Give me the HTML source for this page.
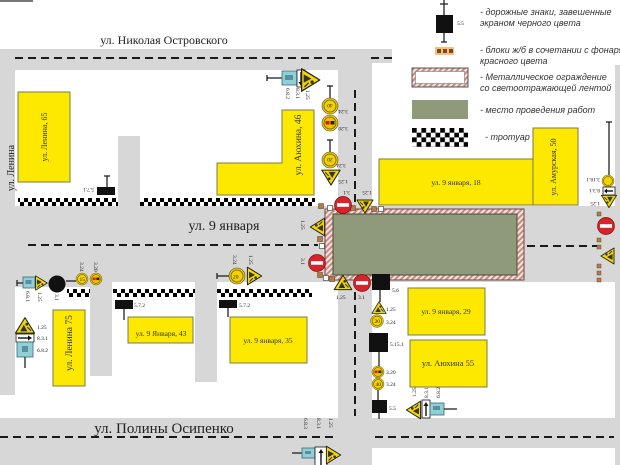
<!DOCTYPE html>
<html><head><meta charset="utf-8">
<style>
html,body{margin:0;padding:0;background:#fff;}
svg{display:block;}
.st{font-family:"Liberation Serif",serif;fill:#222;}
.it{font-family:"Liberation Sans",sans-serif;font-style:italic;font-size:9px;fill:#333;}
.lb{font-family:"Liberation Serif",serif;font-size:5.5px;fill:#222;}
.bl{font-family:"Liberation Serif",serif;fill:#333;}
</style></head><body>
<svg width="620" height="465" viewBox="0 0 620 465" xmlns="http://www.w3.org/2000/svg">
<defs>
<pattern id="c1" x="0" y="198" width="8" height="8" patternUnits="userSpaceOnUse"><rect width="8" height="8" fill="#fff"/><rect width="4" height="4" fill="#000"/><rect x="4" y="4" width="4" height="4" fill="#000"/></pattern>
<pattern id="c2" x="1" y="289" width="8" height="8" patternUnits="userSpaceOnUse"><rect width="8" height="8" fill="#fff"/><rect width="4" height="4" fill="#000"/><rect x="4" y="4" width="4" height="4" fill="#000"/></pattern>
<pattern id="c3" x="412" y="128" width="9.4" height="9.4" patternUnits="userSpaceOnUse"><rect width="9.4" height="9.4" fill="#fff"/><rect width="4.7" height="4.7" fill="#000"/><rect x="4.7" y="4.7" width="4.7" height="4.7" fill="#000"/></pattern>
<pattern id="h" width="4" height="4" patternUnits="userSpaceOnUse" patternTransform="rotate(45)"><rect width="4" height="4" fill="#f4e4e0"/><rect width="2" height="4" fill="#c98a84"/></pattern>
<g id="T"><polygon points="0,-7 8,6 -8,6" fill="#f4d600" stroke="#222" stroke-width=".9" stroke-linejoin="round"/><path d="M-4 4.5L-1 -1L2 4.5Z" fill="#333"/><circle cx="1.5" cy="-1.5" r="1.2" fill="#333"/><path d="M2 1L5 4" stroke="#333" stroke-width="1"/></g>
<g id="N"><circle r="8.5" fill="#d8232a" stroke="#7a1010" stroke-width=".7"/><rect x="-6" y="-1.8" width="12" height="3.6" fill="#fff"/></g>
<g id="S"><circle r="8" fill="#f2d200" stroke="#444" stroke-width=".6"/><circle r="6" fill="none" stroke="#8a6d00" stroke-width="1"/></g>
<g id="R"><circle r="8" fill="#f2d200" stroke="#444" stroke-width=".6"/><circle r="6" fill="#f6c000" stroke="#8a6d00" stroke-width="1"/><rect x="-4.5" y="-2" width="4" height="3.5" fill="#d02020"/><rect x="0.5" y="-2" width="4" height="3.5" fill="#222"/></g>
<g id="B"><rect x="-2.5" y="-2.5" width="5" height="5" fill="#b27b4a" stroke="#5b3b1b" stroke-width=".5"/></g>
<g id="W"><rect x="-2.5" y="-2.5" width="5" height="5" fill="#fff" stroke="#333" stroke-width=".6"/></g>
</defs>

<rect width="620" height="465" fill="#fff"/>
<rect x="0" y="0" width="33" height="2" fill="#777"/>

<!-- roads -->
<g fill="#d7d7d7">
 <rect x="0" y="49" width="372" height="21"/>
 <rect x="372" y="49" width="20" height="14"/>
 <rect x="0" y="49" width="15" height="346"/>
 <rect x="0" y="206" width="620" height="76"/>
 <rect x="0" y="282" width="90" height="5"/>
 <rect x="118" y="136" width="22" height="70"/>
 <rect x="338" y="49" width="34" height="416"/>
 <rect x="90" y="282" width="22" height="94"/>
 <rect x="195" y="282" width="22" height="100"/>
 <rect x="0" y="418" width="620" height="30"/>
 <rect x="0" y="448" width="372" height="17"/>
 <rect x="615" y="65" width="5" height="400"/>
</g>

<!-- dashed center lines -->
<g stroke="#1a1a1a" stroke-width="2" stroke-dasharray="8 5" fill="none">
 <path d="M15 58H336M371 58H392"/>
 <path d="M355 90V202M355 292V416"/>
 <path d="M28 245H318M527 246H600"/>
 <path d="M0 437H338M375 437H614"/>
</g>

<!-- sidewalks -->
<rect x="18" y="198" width="100" height="8" fill="url(#c1)"/>
<rect x="140" y="198" width="175" height="8" fill="url(#c1)"/>
<rect x="67" y="289" width="23" height="8" fill="url(#c2)"/>
<rect x="113" y="289" width="82" height="8" fill="url(#c2)"/>
<rect x="217" y="289" width="95" height="8" fill="url(#c2)"/>

<!-- buildings -->
<g fill="#fde800" stroke="#7a7a50" stroke-width="1">
 <rect x="18" y="92" width="52" height="90"/>
 <polygon points="282,110 314,110 314,195 217,195 217,163 282,163"/>
 <rect x="379" y="159" width="154" height="46"/>
 <rect x="533" y="128" width="45" height="77"/>
 <rect x="408" y="288" width="77" height="47"/>
 <rect x="410" y="340" width="77" height="47"/>
 <rect x="53" y="310" width="32" height="76"/>
 <rect x="128" y="317" width="65" height="26"/>
 <rect x="230" y="317" width="77" height="46"/>
</g>

<!-- work zone -->
<rect x="325" y="209" width="199" height="71" fill="url(#h)" stroke="#6b4a3a" stroke-width="1"/>
<rect x="333" y="214" width="184" height="61" fill="#8e9a7a" stroke="#4a4a3a" stroke-width="1"/>

<!-- street labels -->
<text class="st" x="164" y="44" font-size="12" text-anchor="middle">ул. Николая Островского</text>
<text class="st" x="224" y="230" font-size="14" text-anchor="middle">ул. 9 января</text>
<text class="st" x="164" y="433" font-size="15" text-anchor="middle">ул. Полины Осипенко</text>
<text class="st" font-size="10" text-anchor="middle" transform="translate(14,168) rotate(-90)">ул. Ленина</text>

<!-- building labels -->
<text class="bl" font-size="8" text-anchor="middle" transform="translate(47,137) rotate(-90)">ул. Ленина, 65</text>
<text class="bl" font-size="9.5" text-anchor="middle" transform="translate(301,145) rotate(-90)">ул. Аюхина, 46</text>
<text class="bl" font-size="7.5" x="456" y="185" text-anchor="middle">ул. 9 января, 18</text>
<text class="bl" font-size="8" text-anchor="middle" transform="translate(556,167) rotate(-90)">ул. Амурская, 50</text>
<text class="bl" font-size="7.5" x="446" y="314" text-anchor="middle">ул. 9 января, 29</text>
<text class="bl" font-size="8.5" x="448" y="366" text-anchor="middle">ул. Аюхина 55</text>
<text class="bl" font-size="9.5" text-anchor="middle" transform="translate(72,343) rotate(-90)">ул. Ленина 75</text>
<text class="bl" font-size="7.5" x="161" y="336" text-anchor="middle">ул. 9 Января, 43</text>
<text class="bl" font-size="7.5" x="268" y="343" text-anchor="middle">ул. 9 января, 35</text>

<!-- legend -->
<g stroke="#222" stroke-width="1.3">
 <line x1="444" y1="0" x2="444" y2="15"/><line x1="440" y1="4" x2="448" y2="4"/>
 <line x1="444" y1="33" x2="444" y2="42"/><line x1="441" y1="42" x2="447" y2="42"/>
</g>
<rect x="436" y="15" width="17" height="18" fill="#111"/>
<text class="lb" x="457" y="25">5.5</text>
<rect x="435" y="47" width="19" height="8" fill="#f0b060" opacity=".8"/>
<rect x="437" y="49" width="4" height="4" fill="#7a4a20"/><rect x="443" y="49" width="4" height="4" fill="#7a4a20"/><rect x="449" y="49" width="4" height="4" fill="#7a4a20"/>
<rect x="412" y="68" width="56" height="19" fill="url(#h)" stroke="#555" stroke-width="1"/>
<rect x="415.5" y="71.5" width="49" height="12" fill="#fff" stroke="#777" stroke-width=".6"/>
<rect x="412" y="100" width="56" height="19" fill="#8e9a7a"/>
<rect x="412" y="128" width="56" height="19" fill="url(#c3)"/>
<text class="it" x="480" y="15">- дорожные знаки, завешенные</text>
<text class="it" x="480" y="26">экраном черного цвета</text>
<text class="it" x="480" y="53">- блоки ж/б в сочетании с фонарями</text>
<text class="it" x="480" y="64">красного цвета</text>
<text class="it" x="480" y="80">- Металлическое ограждение</text>
<text class="it" x="480" y="91">со светоотражающей лентой</text>
<text class="it" x="480" y="113">- место проведения работ</text>
<text class="it" x="485" y="140">- тротуар</text>

<!-- top cluster (near Аюхина 46) -->
<g stroke="#222" stroke-width="1.3"><line x1="267" y1="78" x2="282" y2="78"/><line x1="267" y1="75" x2="267" y2="81"/></g>
<rect x="282" y="71" width="15" height="14" fill="#8fd0d6" stroke="#3b6677" stroke-width=".8"/>
<rect x="285" y="75" width="8" height="5" fill="#5a8fa0"/>
<rect x="297" y="70" width="8" height="17" fill="#fff" stroke="#111" stroke-width=".8"/>
<path d="M301 72V83" stroke="#111" stroke-width="1.4"/><path d="M298.5 82H303.5L301 86Z" fill="#111"/>
<use href="#T" transform="translate(310,80) rotate(90) scale(1.4)"/>
<text class="lb" transform="translate(286,88) rotate(90)">6.8.2</text>
<text class="lb" transform="translate(296,88) rotate(90)">8.3.1</text>
<text class="lb" transform="translate(306,90) rotate(90)">1.25</text>

<!-- signs along vertical road (top) -->
<g stroke="#222" stroke-width="1.3"><line x1="330" y1="86" x2="330" y2="98"/><line x1="327" y1="86" x2="333" y2="86"/><line x1="330" y1="140" x2="330" y2="152"/><line x1="327" y1="140" x2="333" y2="140"/></g>
<use href="#S" transform="translate(330,106)"/>
<text class="lb" font-size="6" text-anchor="middle" transform="translate(330,104) rotate(180)">40</text>
<use href="#R" transform="translate(330,123)"/>
<use href="#S" transform="translate(330,160)"/>
<text class="lb" font-size="6.5" text-anchor="middle" transform="translate(330,158) rotate(180)">20</text>
<use href="#T" transform="translate(331,177) rotate(180) scale(1.15)"/>
<text class="lb" transform="translate(348,110) rotate(180)">3.24</text>
<text class="lb" transform="translate(348,127) rotate(180)">3.20</text>
<text class="lb" transform="translate(346,164) rotate(180)">3.24</text>
<text class="lb" transform="translate(348,180) rotate(180)">1.25</text>

<!-- work zone cluster -->
<use href="#B" transform="translate(321,206)"/><use href="#W" transform="translate(330,208)"/>
<use href="#B" transform="translate(353,208)"/><use href="#B" transform="translate(374,209)"/><use href="#W" transform="translate(381,209)"/>
<use href="#N" transform="translate(343,205)"/>
<use href="#T" transform="translate(365,206) rotate(180)"/>
<text class="lb" transform="translate(350,191) rotate(180)">3.1</text>
<text class="lb" transform="translate(372,191) rotate(180)">1.25</text>
<use href="#T" transform="translate(318,227) rotate(-90) scale(1.1)"/>
<text class="lb" transform="translate(301,220) rotate(90)">1.25</text>
<use href="#B" transform="translate(320,239)"/><use href="#W" transform="translate(322,246)"/>
<use href="#N" transform="translate(317,263)"/>
<text class="lb" transform="translate(301,258) rotate(90)">3.1</text>
<use href="#B" transform="translate(320,275)"/><use href="#W" transform="translate(326,278)"/><use href="#B" transform="translate(332,279)"/>
<use href="#T" transform="translate(343,283) scale(1.1)"/>
<text class="lb" font-size="6" x="336" y="299">1.25</text>
<use href="#N" transform="translate(362,283)"/>
<text class="lb" font-size="6" x="358" y="299">3.1</text>
<rect x="372" y="274" width="18" height="16" fill="#111"/>
<text class="lb" font-size="6" x="392" y="292">5.6</text>
<line x1="380" y1="290" x2="380" y2="302" stroke="#222" stroke-width="1.3"/>

<!-- vertical road lower signs -->
<use href="#T" transform="translate(379,308) scale(.9)"/>
<text class="lb" x="386" y="311">1.25</text>
<use href="#S" transform="translate(377,321) scale(.8)"/>
<text class="lb" font-size="5" x="374.5" y="323">20</text>
<text class="lb" x="386" y="324">3.24</text>
<rect x="369" y="333" width="19" height="19" fill="#111"/>
<text class="lb" font-size="6" x="390" y="346">5.15.1</text>
<line x1="379" y1="352" x2="379" y2="366" stroke="#222" stroke-width="1.3"/>
<use href="#R" transform="translate(378,372) scale(.75)"/>
<text class="lb" x="386" y="374">3.20</text>
<use href="#S" transform="translate(378,384) scale(.75)"/>
<text class="lb" font-size="5" x="375.5" y="386">40</text>
<text class="lb" x="386" y="386">3.24</text>
<line x1="378" y1="390" x2="378" y2="400" stroke="#222" stroke-width="1.3"/>
<rect x="372" y="400" width="15" height="13" fill="#111"/>
<text class="lb" font-size="6" x="389" y="410">5.5</text>
<line x1="379" y1="413" x2="379" y2="419" stroke="#222" stroke-width="1.3"/>

<!-- bottom right cluster -->
<use href="#T" transform="translate(414,410) rotate(-90) scale(1.1)"/>
<rect x="422" y="400" width="8" height="18" fill="#fff" stroke="#111" stroke-width=".8"/>
<path d="M426 416V405" stroke="#111" stroke-width="1.4"/><path d="M423.5 406H428.5L426 402Z" fill="#111"/>
<rect x="430" y="403" width="14" height="12" fill="#8fd0d6" stroke="#3b6677" stroke-width=".8"/>
<rect x="433" y="406" width="7" height="4" fill="#5a8fa0"/>
<line x1="444" y1="409" x2="457" y2="409" stroke="#222" stroke-width="1.3"/>
<text class="lb" transform="translate(416,397) rotate(-90)">1.25</text>
<text class="lb" transform="translate(428,398) rotate(-90)">8.3.1</text>
<text class="lb" transform="translate(440,398) rotate(-90)">6.8.2</text>

<!-- bottom middle cluster -->
<line x1="292" y1="453" x2="302" y2="453" stroke="#222" stroke-width="1.3"/>
<rect x="302" y="448" width="13" height="10" fill="#8fd0d6" stroke="#3b6677" stroke-width=".8"/>
<rect x="305" y="451" width="6" height="3" fill="#5a8fa0"/>
<rect x="315" y="447" width="12" height="19" fill="#fff" stroke="#111" stroke-width=".8"/>
<path d="M321 465V452" stroke="#111" stroke-width="1.4"/><path d="M318.5 453H323.5L321 449Z" fill="#111"/>
<use href="#T" transform="translate(333,455) rotate(90) scale(1.1)"/>
<text class="lb" transform="translate(304,418) rotate(90)">6.8.3</text>
<text class="lb" transform="translate(317,418) rotate(90)">8.3.1</text>
<text class="lb" transform="translate(329,418) rotate(90)">1.25</text>

<!-- bottom left clusters -->
<g stroke="#222" stroke-width="1.3"><line x1="17" y1="283" x2="23" y2="283"/><line x1="17" y1="280" x2="17" y2="286"/><line x1="66" y1="281" x2="76" y2="281"/></g>
<rect x="23" y="277" width="12" height="11" fill="#8fd0d6" stroke="#3b6677" stroke-width=".8"/>
<rect x="25.5" y="280" width="6" height="4" fill="#5a8fa0"/>
<use href="#T" transform="translate(41,283) rotate(90) scale(.9)"/>
<circle cx="57" cy="284" r="8.5" fill="#111"/>
<use href="#S" transform="translate(82,279) scale(.75)"/>
<text class="lb" font-size="5" x="79.5" y="281">15</text>
<use href="#R" transform="translate(96,279) scale(.75)"/>
<text class="lb" font-size="4.5" transform="translate(26,291) rotate(90)">6.8.1</text>
<text class="lb" font-size="4.5" transform="translate(38,292) rotate(90)">1.25</text>
<text class="lb" font-size="4.5" transform="translate(55,294) rotate(90)">3.1</text>
<text class="lb" font-size="4.5" transform="translate(80,262) rotate(90)">3.24</text>
<text class="lb" font-size="4.5" transform="translate(94,262) rotate(90)">3.20</text>

<use href="#T" transform="translate(25,326) scale(1.2)"/>
<rect x="16" y="334" width="18" height="8" fill="#fff" stroke="#111" stroke-width=".8"/>
<path d="M18 338H29" stroke="#111" stroke-width="1.4"/><path d="M28 335.5V340.5L32 338Z" fill="#111"/>
<rect x="17" y="342" width="16" height="15" fill="#8fd0d6" stroke="#3b6677" stroke-width=".8"/>
<rect x="22" y="346" width="6" height="6" fill="#5a8fa0"/>
<line x1="25" y1="357" x2="25" y2="368" stroke="#222" stroke-width="1.3"/>
<text class="lb" font-size="6" x="37" y="329">1.25</text>
<text class="lb" font-size="6" x="37" y="340">8.3.1</text>
<text class="lb" font-size="6" x="37" y="352">6.8.2</text>

<!-- 5.7.x signs -->
<rect x="115" y="300" width="18" height="9" fill="#111"/>
<line x1="124" y1="309" x2="124" y2="320" stroke="#222" stroke-width="1.3"/>
<text class="lb" x="134" y="307">5.7.2</text>
<rect x="219" y="300" width="18" height="8" fill="#111"/>
<line x1="228" y1="308" x2="228" y2="317" stroke="#222" stroke-width="1.3"/>
<text class="lb" x="239" y="307">5.7.2</text>
<rect x="97" y="187" width="18" height="8" fill="#111"/>
<g stroke="#222" stroke-width="1.3"><line x1="107" y1="176" x2="107" y2="187"/><line x1="104" y1="176" x2="110" y2="176"/></g>
<text class="lb" transform="translate(94,188) rotate(180)">5.7.1</text>

<!-- cluster near 9 января 35 -->
<g stroke="#222" stroke-width="1.3"><line x1="217" y1="276" x2="229" y2="276"/><line x1="217" y1="273" x2="217" y2="279"/></g>
<use href="#S" transform="translate(237,276)"/>
<text class="lb" font-size="7" x="233" y="278.5">20</text>
<use href="#T" transform="translate(254,276) rotate(90) scale(1.1)"/>
<text class="lb" transform="translate(233,255) rotate(90)">3.24</text>
<text class="lb" transform="translate(249,255) rotate(90)">1.25</text>

<!-- right side cluster -->
<g stroke="#222" stroke-width="1.3"><line x1="609" y1="122" x2="609" y2="175"/><line x1="606" y1="122" x2="612" y2="122"/></g>
<use href="#S" transform="translate(608,181) scale(.75)"/>
<rect x="603" y="187" width="12" height="8" fill="#fff" stroke="#111" stroke-width=".8"/>
<path d="M613 191H606" stroke="#111" stroke-width="1.4"/><path d="M607 188.5V193.5L604 191Z" fill="#111"/>
<use href="#T" transform="translate(609,201) rotate(180) scale(.95)"/>
<text class="lb" transform="translate(600,178) rotate(180)">3.18.1</text>
<text class="lb" transform="translate(600,189) rotate(180)">8.3.1</text>
<text class="lb" transform="translate(600,202) rotate(180)">1.25</text>
<g>
 <use href="#B" transform="translate(599,214) scale(.8)"/><use href="#B" transform="translate(599,240) scale(.8)"/>
 <use href="#B" transform="translate(599,247) scale(.8)"/><use href="#B" transform="translate(599,266) scale(.8)"/>
 <use href="#B" transform="translate(599,273) scale(.8)"/><use href="#B" transform="translate(599,280) scale(.8)"/>
</g>
<use href="#N" transform="translate(606,226)"/>
<use href="#T" transform="translate(608,256) rotate(-90)"/>
</svg>
</body></html>
